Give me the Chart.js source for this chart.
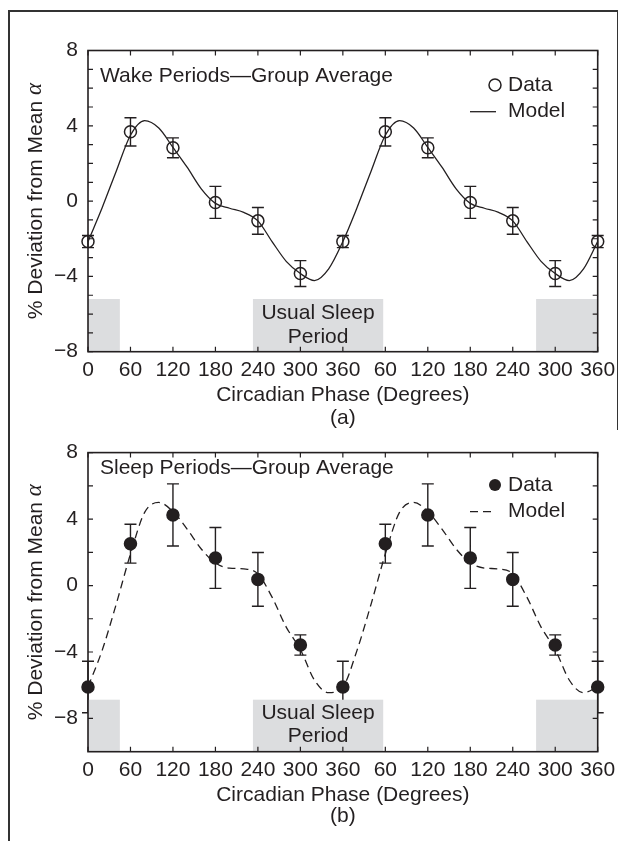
<!DOCTYPE html>
<html><head><meta charset="utf-8">
<script src="https://cdn.jsdelivr.net/npm/chart.js@4.4.0/dist/chart.umd.min.js"></script>
<style>
html,body{margin:0;padding:0;background:#fff;}
body{width:622px;height:841px;position:relative;overflow:hidden;}
canvas{position:absolute;left:0;}
#c1{top:0}
#c2{top:430px}
.frame{position:absolute;background:#333;}
</style></head><body>
<div class="frame" style="left:8px;top:10px;width:1.5px;height:831px"></div>
<div class="frame" style="left:8px;top:10px;width:610px;height:1.5px"></div>
<div class="frame" style="left:616.5px;top:10px;width:1.5px;height:420px"></div>
<canvas id="c1" width="622" height="440"></canvas>
<canvas id="c2" width="622" height="411"></canvas>
<script>
// ---------- data ----------
const dataX = [0, 60, 120, 180, 240, 300, 360, 420, 480, 540, 600, 660, 720];
const xTickValues = [0, 60, 120, 180, 240, 300, 360, 420, 480, 540, 600, 660, 720];
const xTickLabels = ['0','60','120','180','240','300','360','60','120','180','240','300','360'];

const wakeData = [-2.15, 3.68, 2.83, -0.07, -1.05, -3.85, -2.15, 3.68, 2.83, -0.07, -1.05, -3.85, -2.15];
const wakeErr  = [0.32, 0.75, 0.53, 0.85, 0.71, 0.69, 0.32, 0.75, 0.53, 0.85, 0.71, 0.69, 0.32];
const sleepData = [-6.11, 2.52, 4.25, 1.66, 0.37, -3.58, -6.11, 2.52, 4.25, 1.66, 0.37, -3.58, -6.11];
const sleepErr  = [1.55, 1.17, 1.87, 1.83, 1.62, 0.61, 1.55, 1.17, 1.87, 1.83, 1.62, 0.61, 1.55];

const modelX = [0,20,40,60,80,100,120,140,160,180,200,220,240,260,280,300,320,340,
                360,380,400,420,440,460,480,500,520,540,560,580,600,620,640,660,680,700,720];
const wakeModel = [-2.15,-0.35,1.6,3.5,4.27,3.88,2.85,1.8,0.65,-0.12,-0.38,-0.6,-1.05,-2.15,-3.2,-3.85,-4.22,-3.6,
                   -2.15,-0.35,1.6,3.5,4.27,3.88,2.85,1.8,0.65,-0.12,-0.38,-0.6,-1.05,-2.15,-3.2,-3.85,-4.22,-3.6,-2.15];
const sleepModel = [-6.1,-3.9,-1.1,1.9,4.4,5.0,4.45,3.4,2.2,1.36,1.05,1.0,0.7,-0.7,-2.5,-3.85,-5.7,-6.45,
                    -6.1,-3.9,-1.1,1.9,4.4,5.0,4.45,3.4,2.2,1.36,1.05,1.0,0.7,-0.7,-2.5,-3.85,-5.7,-6.45,-6.1];

const sleepBandStarts = [0, 233, 633];
const sleepBandEnds   = [45, 417, 720];

const yTicksTop = [-8,-7,-6,-5,-4,-3,-2,-1,0,1,2,3,4,5,6,7,8];
const yTicksBottom = [-8,-6,-4,-2,0,2,4,6,8];

// ---------- style ----------
const FONT = '"Liberation Sans", Arial, Helvetica, sans-serif';
const INK = '#231f20';
const GRAY = '#dcdddf';

function yLabel(v){ if (v % 4 !== 0) return ''; return v < 0 ? '\u2212' + Math.abs(v) : String(v); }

function buildChart(id, p) {
  const decor = {
    id: 'decor',
    beforeDatasetsDraw(chart) {
      const {ctx, chartArea: a, scales: {x, y}} = chart;
      ctx.save();
      // error bars
      ctx.strokeStyle = INK; ctx.lineWidth = 1.4;
      ctx.beginPath();
      for (let i = 0; i < dataX.length; i++) {
        const px = x.getPixelForValue(dataX[i]);
        const t = y.getPixelForValue(p.data[i] + p.err[i]);
        const b = y.getPixelForValue(p.data[i] - p.err[i]);
        ctx.moveTo(px, t); ctx.lineTo(px, b);
        ctx.moveTo(px - 6, t); ctx.lineTo(px + 6, t);
        ctx.moveTo(px - 6, b); ctx.lineTo(px + 6, b);
      }
      ctx.stroke();
      // sleep bands
      ctx.fillStyle = GRAY;
      const bt = y.getPixelForValue(p.bandTop);
      for (let i = 0; i < sleepBandStarts.length; i++) {
        const l = x.getPixelForValue(sleepBandStarts[i]);
        const r = x.getPixelForValue(sleepBandEnds[i]);
        ctx.fillRect(l, bt, r - l, a.bottom - bt);
      }
      const cx = (x.getPixelForValue(sleepBandStarts[1]) + x.getPixelForValue(sleepBandEnds[1])) / 2;
      ctx.fillStyle = INK; ctx.font = '21px ' + FONT;
      ctx.textAlign = 'center'; ctx.textBaseline = 'middle';
      ctx.fillText('Usual Sleep', cx, a.bottom - p.sleepText1);
      ctx.fillText('Period', cx, a.bottom - p.sleepText2);
      ctx.restore();
    },
    afterDraw(chart) {
      const {ctx, chartArea: a, scales: {x, y}} = chart;
      ctx.save();
      ctx.strokeStyle = INK; ctx.lineWidth = 1.6;
      ctx.strokeRect(a.left, a.top, a.right - a.left, a.bottom - a.top);
      ctx.lineWidth = 1.2;
      ctx.beginPath();
      for (const v of xTickValues) {
        const px = x.getPixelForValue(v);
        ctx.moveTo(px, a.bottom); ctx.lineTo(px, a.bottom - 5);
        ctx.moveTo(px, a.top); ctx.lineTo(px, a.top + 5);
      }
      for (const v of p.yTicks) {
        const py = y.getPixelForValue(v);
        ctx.moveTo(a.left, py); ctx.lineTo(a.left + 5, py);
        ctx.moveTo(a.right, py); ctx.lineTo(a.right - 5, py);
      }
      ctx.stroke();

      ctx.fillStyle = INK;
      ctx.font = '21px ' + FONT;
      ctx.textBaseline = 'middle';
      // panel annotation
      ctx.textAlign = 'left';
      ctx.fillText(p.title, 100, p.titleY);
      // legend
      ctx.fillText('Data', 508, p.legY1);
      ctx.fillText('Model', 508, p.legY2);
      ctx.beginPath();
      ctx.arc(495, p.legY1, 6, 0, Math.PI * 2);
      ctx.lineWidth = 1.5;
      if (p.filled) { ctx.fill(); } else { ctx.stroke(); }
      ctx.beginPath();
      ctx.lineWidth = 1.3;
      ctx.setLineDash(p.dash);
      ctx.moveTo(470, p.legY2); ctx.lineTo(496, p.legY2);
      ctx.stroke();
      ctx.setLineDash([]);
      // x title + caption
      const mx = (a.left + a.right) / 2;
      ctx.textAlign = 'center';
      ctx.fillText('Circadian Phase (Degrees)', mx, p.xTitleY);
      ctx.fillText(p.caption, mx, p.captionY);
      // y title
      ctx.save();
      ctx.translate(36, (a.top + a.bottom) / 2);
      ctx.rotate(-Math.PI / 2);
      const s1 = '% Deviation from Mean ';
      ctx.font = '21px ' + FONT;
      const w1 = ctx.measureText(s1).width;
      const af = 'italic 23px "Liberation Serif", "DejaVu Serif", serif';
      ctx.font = af;
      const w2 = ctx.measureText('\u03B1').width;
      const st = -(w1 + w2) / 2;
      ctx.textAlign = 'left';
      ctx.font = '21px ' + FONT;
      ctx.fillText(s1, st, 0);
      ctx.font = af;
      ctx.fillText('\u03B1', st + w1, -1);
      ctx.restore();
      ctx.restore();
    }
  };

  return new Chart(document.getElementById(id), {
    type: 'scatter',
    data: { datasets: [
      { label: 'Data', data: dataX.map((v, i) => ({x: v, y: p.data[i]})),
        pointRadius: 6, pointBorderWidth: 1.5, pointBorderColor: INK,
        pointBackgroundColor: p.filled ? INK : 'rgba(0,0,0,0)', showLine: false, clip: false, order: 1 },
      { label: 'Model', type: 'line', data: modelX.map((v, i) => ({x: v, y: p.model[i]})),
        borderColor: INK, borderWidth: 1.3, borderDash: p.dash, pointRadius: 0, fill: false,
        cubicInterpolationMode: 'monotone', clip: false, order: 2 }
    ]},
    options: {
      responsive: false, animation: false, devicePixelRatio: 1,
      layout: { padding: { left: 0, right: 24.3, top: p.padTop, bottom: 0 } },
      plugins: { legend: { display: false }, tooltip: { enabled: false } },
      scales: {
        x: { type: 'linear', min: 0, max: 720,
             afterBuildTicks: s => { s.ticks = xTickValues.map(v => ({value: v})); },
             ticks: { autoSkip: false, maxRotation: 0, minRotation: 0, padding: 6, color: INK,
                      font: { family: FONT, size: 21 }, callback: (v, i) => xTickLabels[i] },
             grid: { display: false, drawTicks: false }, border: { display: false },
             afterFit: s => { s.height = p.xh; } },
        y: { type: 'linear', min: p.ymin, max: 8,
             afterBuildTicks: s => { s.ticks = p.yTicks.map(v => ({value: v})); },
             ticks: { autoSkip: false, padding: 10, color: INK, font: { family: FONT, size: 21 },
                      callback: v => yLabel(v) },
             grid: { display: false, drawTicks: false }, border: { display: false },
             afterFit: s => { s.width = 88; } }
      }
    },
    plugins: [decor]
  });
}

const TOP2 = 430;
buildChart('c1', {
  data: wakeData, err: wakeErr, model: wakeModel, filled: false, dash: [],
  ymin: -8, yTicks: yTicksTop, bandTop: -5.2, padTop: 50.5, xh: 440 - 351.7,
  title: 'Wake Periods\u2014Group Average', titleY: 76.7, legY1: 85, legY2: 111.7,
  xTitleY: 395, caption: '(a)', captionY: 418, sleepText1: 38.4, sleepText2: 14.4
});
buildChart('c2', {
  data: sleepData, err: sleepErr, model: sleepModel, filled: true, dash: [8, 5],
  ymin: -10, yTicks: yTicksBottom, bandTop: -6.87, padTop: 450.7 - TOP2, xh: 411 - (751.7 - TOP2),
  title: 'Sleep Periods\u2014Group Average', titleY: 468.3 - TOP2, legY1: 485 - TOP2, legY2: 511.7 - TOP2,
  xTitleY: 795 - TOP2, caption: '(b)', captionY: 816.7 - TOP2, sleepText1: 38.4, sleepText2: 15.7
});
</script>
</body></html>
